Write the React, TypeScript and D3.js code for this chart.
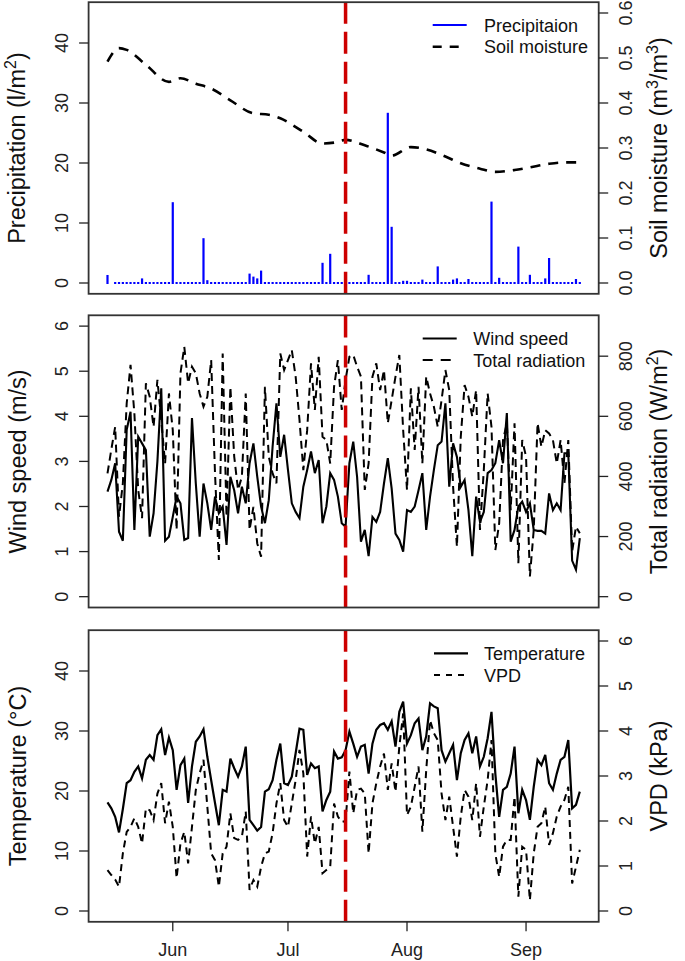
import React from "react";
import * as d3 from "d3";

// ---------- data ----------
const START_DATE = new Date(2015, 4, 15);
const EVENT_DATE = new Date(2015, 6, 16);
const monthTickDates = [new Date(2015, 5, 1), new Date(2015, 6, 1), new Date(2015, 7, 1), new Date(2015, 8, 1)];
const monthLabels = ["Jun", "Jul", "Aug", "Sep"];

const precipitation = [
  1.17, null, 0, 0, 0, 0, 0, 0, 0, 0.6,
  0, 0, 0, 0, 0, 0, 0, 13.3, 0, 0,
  0, 0, 0, 0, 0, 7.3, 0.3, 0, 0, 0,
  0, 0, 0, 0, 0, 0, 0, 1.4, 0.9, 0.6,
  1.9, 0, 0, 0, 0, 0, 0, 0, 0, 0,
  0, 0, 0, 0, 0, 0, 3.2, 0, 4.7, 0,
  0, 0, 0, 0, 0, 0, 0, 0, 1.2, 0,
  0, 0, 0, 28.2, 9.2, 0, 0, 0.2, 0.2, 0,
  0, 0, 0.4, 0, 0, 0, 2.6, 0, 0, 0,
  0.4, 0.6, 0, 0, 0.5, 0, 0, 0, 0, 0,
  13.4, 0, 0.7, 0, 0, 0, 0, 5.9, 0, 0,
  1.2, 0, 0, 0, 0.6, 4.0, 0, 0, 0, 0,
  0, 0, 0.5, 0,
];

const soilDays = [0, 3, 5, 10, 16, 19, 23, 27, 32, 38, 42, 45, 51, 56, 59, 62, 67, 72, 74, 79, 83, 88, 92, 97, 101, 106, 110, 115, 119, 123];
const soilMoisture = [0.492, 0.522, 0.518, 0.485, 0.447, 0.455, 0.443, 0.432, 0.406, 0.377, 0.374, 0.366, 0.336, 0.31, 0.312, 0.318, 0.306, 0.29, 0.283, 0.302, 0.297, 0.281, 0.266, 0.254, 0.247, 0.251, 0.257, 0.265, 0.268, 0.268];

const windSpeed = [
  2.33, 2.59, 2.96, 1.44, 1.24, 3.7, 4.1, 1.48, 3.55, 3.4,
  3.25, 1.33, 1.85, 3.0, 4.62, 1.24, 1.33, 1.77, 2.22, 2.07,
  1.26, 1.3, 3.96, 2.51, 1.33, 2.51, 2.07, 1.48, 2.22, 1.85,
  2.0, 1.15, 2.66, 2.36, 1.85, 2.44, 2.07, 2.96, 3.4, 2.66,
  2.0, 1.63, 2.14, 3.33, 4.29, 3.1, 3.59, 2.81, 2.07, 1.88,
  1.74, 2.44, 2.81, 3.22, 2.74, 3.03, 1.63, 2.0, 2.74, 2.59,
  2.22, 1.63, 1.55, 2.96, 3.44, 2.66, 1.22, 1.48, 0.9, 1.77,
  1.66, 1.88, 2.51, 3.07, 2.4, 1.4, 1.26, 1.0, 1.92, 1.88,
  2.0, 2.36, 2.74, 1.48, 2.22, 2.81, 3.36, 3.44, 4.29, 2.44,
  3.4, 3.1, 2.44, 2.59, 1.92, 0.9, 2.22, 1.66, 1.88, 2.74,
  2.81, 2.96, 3.47, 2.96, 4.07, 1.22, 1.48, 2.0, 2.11, 1.88,
  2.07, 1.48, 1.46, 1.46, 1.4, 2.29, 1.92, 2.07, 1.92, 3.18,
  3.18, 0.8, 0.6, 1.3,
];

const totalRadiation = [
  410, 490, 565, 266, 377, 643, 771, 610, 355, 261,
  710, 665, 565, 721, 588, 443, 676, 554, 222, 743,
  831, 710, 765, 743, 676, 632, 665, 787, 410, 122,
  809, 266, 698, 466, 355, 399, 676, 222, 299, 177,
  133, 698, 466, 410, 377, 809, 754, 787, 820, 732,
  588, 421, 554, 776, 621, 798, 532, 521, 443, 698,
  787, 621, 721, 798, 804, 765, 732, 355, 443, 732,
  776, 687, 754, 577, 654, 732, 804, 554, 355, 693,
  488, 698, 443, 732, 676, 632, 565, 654, 754, 687,
  366, 166, 532, 704, 665, 599, 687, 222, 421, 676,
  565, 155, 244, 521, 577, 288, 577, 111, 521, 466,
  67, 222, 577, 499, 554, 543, 521, 443, 521, 377,
  521, 150, 233, 211,
];

const temperature = [
  18.1, 17.1, 15.7, 13.1, 17.0, 21.3, 21.8, 23.2, 24.1, 22.1,
  25.2, 26.0, 25.2, 29.3, 30.3, 26.0, 28.9, 26.8, 20.2, 24.3,
  25.4, 18.0, 24.1, 28.2, 29.1, 30.3, 25.7, 21.8, 18.0, 14.3,
  20.2, 19.9, 25.4, 23.8, 22.4, 24.1, 27.4, 15.2, 14.3, 13.4,
  14.0, 19.9, 20.3, 21.8, 25.2, 27.9, 21.3, 21.0, 22.4, 26.3,
  30.4, 30.2, 22.7, 24.6, 23.8, 24.1, 16.6, 18.5, 19.9, 26.6,
  25.4, 25.6, 26.8, 29.9, 27.9, 25.7, 27.4, 27.7, 22.9, 27.9,
  30.2, 31.0, 31.3, 30.2, 31.6, 27.4, 33.2, 34.9, 27.9, 29.3,
  31.3, 32.1, 26.8, 29.1, 34.6, 34.1, 33.8, 26.8, 24.9, 26.3,
  27.7, 21.8, 26.3, 28.5, 29.6, 26.3, 29.1, 24.1, 25.7, 28.8,
  33.2, 22.9, 15.7, 20.2, 20.7, 22.9, 27.4, 16.3, 20.2, 18.5,
  15.2, 20.7, 25.2, 24.3, 26.0, 21.3, 20.2, 22.9, 25.2, 25.7,
  28.5, 17.1, 17.7, 19.9,
];

const vpd = [
  0.91, 0.8, 0.7, 0.54, 1.28, 1.76, 1.87, 2.06, 1.87, 1.5,
  2.28, 2.24, 2.02, 2.61, 2.84, 1.95, 2.43, 1.87, 0.73, 1.5,
  1.76, 1.06, 1.87, 2.69, 3.06, 3.36, 2.32, 1.28, 1.13, 0.54,
  1.28, 1.43, 2.17, 1.62, 1.58, 1.65, 2.21, 0.47, 0.69, 0.54,
  0.98, 1.28, 1.32, 1.73, 2.39, 2.84, 2.02, 1.87, 2.39, 2.91,
  3.58, 3.06, 1.21, 2.1, 1.5, 1.87, 0.84, 0.91, 0.98, 2.39,
  2.1, 1.98, 2.0, 3.1, 2.17, 2.69, 2.72, 2.61, 1.28, 2.39,
  2.84, 3.21, 3.5, 2.69, 3.28, 2.65, 3.65, 4.39, 2.13, 2.32,
  2.76, 3.21, 1.76, 3.13, 4.24, 3.95, 3.8, 2.61, 2.02, 2.54,
  1.87, 1.21, 2.1, 2.69, 2.54, 2.02, 2.84, 1.65, 2.32, 2.91,
  3.8, 1.28, 0.76, 1.43, 1.58, 1.58, 2.54, 0.32, 1.43, 1.36,
  0.24, 1.28, 1.87, 1.95, 2.32, 1.47, 1.73, 2.1, 2.32, 2.47,
  2.76, 0.61, 0.98, 1.36,
];

const precipTicks = [0, 10, 20, 30, 40];
const soilTicks = [0, 0.1, 0.2, 0.3, 0.4, 0.5, 0.6];
const windTicks = [0, 1, 2, 3, 4, 5, 6];
const radTicks = [0, 200, 400, 600, 800];
const tempTicks = [0, 10, 20, 30, 40];
const vpdTicks = [0, 1, 2, 3, 4, 5, 6];

// ---------- layout ----------
const W = 685;
const H = 961;
const LEFT = 88.6;
const RIGHT = 598.7;
const FONT = "'Liberation Sans', Arial, Helvetica, sans-serif";
const TICK = 9.5;

const dayDate = (i: number) => d3.timeDay.offset(START_DATE, i);
const N = windSpeed.length;
const endDate = dayDate(N - 1);
const padMs = 0.04 * (endDate.getTime() - START_DATE.getTime());
const x = d3
  .scaleTime()
  .domain([new Date(START_DATE.getTime() - padMs), new Date(endDate.getTime() + padMs)])
  .range([LEFT, RIGHT]);

function yScale(lo: number, hi: number, top: number, bottom: number) {
  const p = 0.04 * (hi - lo);
  return d3.scaleLinear().domain([lo - p, hi + p]).range([bottom, top]);
}

const panels = [
  { top: 2.2, bottom: 293.8 },
  { top: 315.3, bottom: 607.5 },
  { top: 630.2, bottom: 921.8 },
];

const y1L = yScale(0, 45, panels[0].top, panels[0].bottom);
const y1R = yScale(0, 0.6, panels[0].top, panels[0].bottom);
const y2L = yScale(0, 6, panels[1].top, panels[1].bottom);
const y2R = yScale(0, 900, panels[1].top, panels[1].bottom);
const y3L = yScale(0, 45, panels[2].top, panels[2].bottom);
const y3R = yScale(0, 6, panels[2].top, panels[2].bottom);

function LeftAxis({ scale, ticks, fmt }: any) {
  return (
    <g>
      {ticks.map((t: number) => (
        <g key={t}>
          <line x1={LEFT} x2={LEFT - TICK} y1={scale(t)} y2={scale(t)} stroke="#222" strokeWidth={1.3} />
          <text
            transform={`translate(68,${scale(t)}) rotate(-90)`}
            textAnchor="middle"
            fontSize={18}
            fill="#222"
          >
            {fmt ? fmt(t) : String(t)}
          </text>
        </g>
      ))}
    </g>
  );
}

function RightAxis({ scale, ticks, fmt }: any) {
  return (
    <g>
      {ticks.map((t: number) => (
        <g key={t}>
          <line x1={RIGHT} x2={RIGHT + TICK} y1={scale(t)} y2={scale(t)} stroke="#222" strokeWidth={1.3} />
          <text
            transform={`translate(632,${scale(t)}) rotate(-90)`}
            textAnchor="middle"
            fontSize={18}
            fill="#222"
          >
            {fmt ? fmt(t) : String(t)}
          </text>
        </g>
      ))}
    </g>
  );
}

function Title({ xPos, cy, children }: any) {
  return (
    <text transform={`translate(${xPos},${cy}) rotate(-90)`} textAnchor="middle" fontSize={23.5} fill="#111">
      {children}
    </text>
  );
}

function Sup({ v }: { v: string }) {
  return (
    <tspan dy={-9} fontSize={16}>
      {v}
    </tspan>
  );
}

function EventLine({ top, bottom }: any) {
  const ex = x(EVENT_DATE);
  return (
    <line x1={ex} x2={ex} y1={bottom} y2={top} stroke="#CD0000" strokeWidth={3.5} strokeDasharray="22 8" />
  );
}

function Legend({ lx, tx, ya, yb, a, b }: any) {
  return (
    <g fontSize={18} fill="#111">
      <line x1={lx} x2={lx + 34} y1={ya} y2={ya} stroke={a.color} strokeWidth={a.w} strokeDasharray={a.dash || null} />
      <text x={tx} y={ya + 6.5}>{a.label}</text>
      <line x1={lx} x2={lx + 34} y1={yb} y2={yb} stroke={b.color} strokeWidth={b.w} strokeDasharray={b.dash || null} />
      <text x={tx} y={yb + 6.5}>{b.label}</text>
    </g>
  );
}

function Box({ top, bottom }: any) {
  return (
    <rect x={LEFT} y={top} width={RIGHT - LEFT} height={bottom - top} fill="none" stroke="#333" strokeWidth={1.8} />
  );
}

export default function App() {
  const p1 = panels[0], p2 = panels[1], p3 = panels[2];

  const soilLine = d3
    .line<number>()
    .x((_, i) => x(dayDate(soilDays[i])))
    .y((v) => y1R(v))
    .curve(d3.curveMonotoneX)(soilMoisture) as string;

  const windLine = d3.line<number>().x((_, i) => x(dayDate(i))).y((v) => y2L(v))(windSpeed) as string;
  const radLine = d3.line<number>().x((_, i) => x(dayDate(i))).y((v) => y2R(v))(totalRadiation) as string;
  const tempLine = d3.line<number>().x((_, i) => x(dayDate(i))).y((v) => y3L(v))(temperature) as string;
  const vpdLine = d3.line<number>().x((_, i) => x(dayDate(i))).y((v) => y3R(v))(vpd) as string;

  const mid1 = (p1.top + p1.bottom) / 2;
  const mid2 = (p2.top + p2.bottom) / 2;
  const mid3 = (p3.top + p3.bottom) / 2;

  return (
    <svg
      width={W}
      height={H}
      viewBox={`0 0 ${W} ${H}`}
      style={{ position: "absolute", left: 0, top: 0, background: "#fff" }}
      fontFamily={FONT}
    >
      <rect x={0} y={0} width={W} height={H} fill="#fff" />

      {/* Panel 1 */}
      <g>
        {precipitation.map((v, i) => {
          if (v === null) return null;
          const cx = x(dayDate(i));
          const y0 = y1L(0);
          const yt = y1L(v as number);
          return <rect key={i} x={cx - 1.1} y={yt - 1} width={2.2} height={y0 - yt + 2} fill="#0000FF" />;
        })}
        <path d={soilLine} fill="none" stroke="#000" strokeWidth={2.6} strokeDasharray="10 8" />
        <EventLine top={p1.top} bottom={p1.bottom} />
        <Box top={p1.top} bottom={p1.bottom} />
        <LeftAxis scale={y1L} ticks={precipTicks} />
        <RightAxis scale={y1R} ticks={soilTicks} fmt={d3.format(".1f")} />
        <Title xPos={25} cy={mid1}>
          Precipitation (l/m<Sup v="2" />
          <tspan dy={9}>)</tspan>
        </Title>
        <Title xPos={667} cy={mid1}>
          Soil moisture (m<Sup v="3" />
          <tspan dy={9}>/m</tspan>
          <Sup v="3" />
          <tspan dy={9}>)</tspan>
        </Title>
        <Legend
          lx={432.7}
          tx={484}
          ya={25}
          yb={46.7}
          a={{ color: "#0000FF", w: 2.2, label: "Precipitaion" }}
          b={{ color: "#000", w: 2.6, dash: "9 8", label: "Soil moisture" }}
        />
      </g>

      {/* Panel 2 */}
      <g>
        <path d={radLine} fill="none" stroke="#000" strokeWidth={2} strokeDasharray="8 5" />
        <path d={windLine} fill="none" stroke="#000" strokeWidth={2.1} />
        <EventLine top={p2.top} bottom={p2.bottom} />
        <Box top={p2.top} bottom={p2.bottom} />
        <LeftAxis scale={y2L} ticks={windTicks} />
        <RightAxis scale={y2R} ticks={radTicks} />
        <Title xPos={26} cy={mid2}>Wind speed (m/s)</Title>
        <Title xPos={667} cy={mid2}>
          Total radiation (W/m<Sup v="2" />
          <tspan dy={9}>)</tspan>
        </Title>
        <Legend
          lx={422.7}
          tx={473.3}
          ya={338.5}
          yb={360}
          a={{ color: "#000", w: 2.1, label: "Wind speed" }}
          b={{ color: "#000", w: 2, dash: "10 8", label: "Total radiation" }}
        />
      </g>

      {/* Panel 3 */}
      <g>
        <path d={vpdLine} fill="none" stroke="#000" strokeWidth={2} strokeDasharray="7 5" />
        <path d={tempLine} fill="none" stroke="#000" strokeWidth={2.2} />
        <EventLine top={p3.top} bottom={p3.bottom} />
        <Box top={p3.top} bottom={p3.bottom} />
        <LeftAxis scale={y3L} ticks={tempTicks} />
        <RightAxis scale={y3R} ticks={vpdTicks} />
        <Title xPos={26} cy={mid3}>Temperature (°C)</Title>
        <Title xPos={667} cy={mid3}>VPD (kPa)</Title>
        <Legend
          lx={434}
          tx={484}
          ya={653.3}
          yb={675}
          a={{ color: "#000", w: 2.2, label: "Temperature" }}
          b={{ color: "#000", w: 2, dash: "6 6", label: "VPD" }}
        />
        {monthTickDates.map((d, i) => (
          <g key={i}>
            <line x1={x(d)} x2={x(d)} y1={p3.bottom} y2={p3.bottom + TICK} stroke="#222" strokeWidth={1.3} />
            <text x={x(d)} y={956} textAnchor="middle" fontSize={18} fill="#222">
              {monthLabels[i]}
            </text>
          </g>
        ))}
      </g>
    </svg>
  );
}
